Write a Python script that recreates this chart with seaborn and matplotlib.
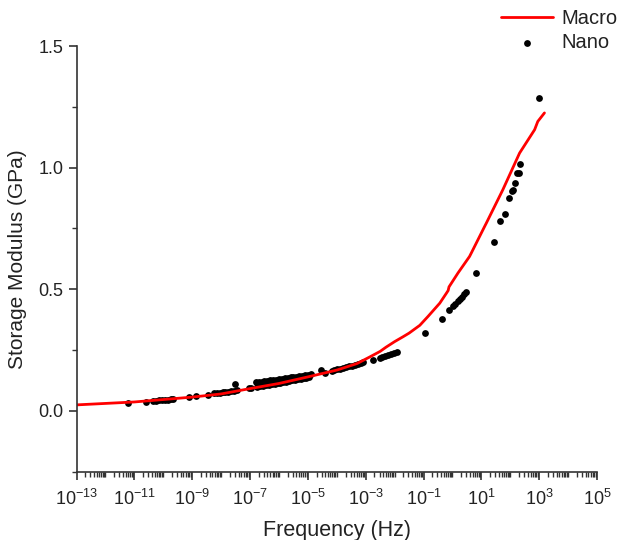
import numpy as np
import pandas as pd
import matplotlib
matplotlib.use("Agg")
import matplotlib.pyplot as plt
from matplotlib.ticker import FixedLocator, FuncFormatter, NullFormatter
import seaborn as sns

# Macro (DMA master curve): log10 frequency and storage modulus (GPa)
macro_logf = [-13.0, -11.0, -9.0, -8.0, -7.0, -6.0, -5.0, -4.0, -3.3, -2.86,
              -2.5, -2.3, -2.0, -1.71, -1.5, -1.13, -0.85, -0.44, -0.21, -0.15,
              -0.12, 0.19, 0.59, 0.65, 1.11, 1.17, 1.74, 2.32, 2.84, 2.95, 3.18]
macro_mod = [0.025, 0.037, 0.057, 0.070, 0.092, 0.113, 0.140, 0.168, 0.195, 0.222,
             0.245, 0.262, 0.285, 0.305, 0.320, 0.352, 0.388, 0.443, 0.484, 0.495,
             0.510, 0.567, 0.635, 0.649, 0.758, 0.772, 0.909, 1.060, 1.156, 1.190, 1.225]

# Nano (nanoindentation): log10 frequency and storage modulus (GPa)
nano_logf = [-11.23, -10.60, -10.35, -10.25, -10.15, -10.05, -9.95, -9.85, -9.75, -9.66,
             -9.10, -8.87, -8.47, -8.25, -8.15, -8.05, -7.95, -7.85, -7.75, -7.65,
             -7.55, -7.45, -7.51, -7.03, -6.95,
             -6.80, -6.70, -6.60, -6.50, -6.40, -6.30, -6.20, -6.10, -6.00, -5.90,
             -5.80, -5.70, -5.60, -5.50, -5.40, -5.30, -5.20, -5.10, -5.00, -4.90,
             -6.75, -6.65, -6.55, -6.45, -6.35, -6.25, -6.15, -6.05, -5.95, -5.85,
             -5.75, -5.65, -5.55, -5.45, -5.35, -5.25, -5.15, -5.05, -4.95,
             -4.55, -4.42, -4.18, -4.08, -3.98, -3.88, -3.78, -3.68, -3.58, -3.48,
             -3.38, -3.28, -3.18, -3.10, -2.76, -2.52, -2.42, -2.32, -2.22, -2.12,
             -2.02, -1.92,
             -0.96, -0.35, -0.12, 0.02, 0.10, 0.18, 0.26, 0.33, 0.40, 0.48,
             0.80, 1.42, 1.66, 1.83, 1.94, 2.05, 2.10, 2.16, 2.24, 2.30,
             2.34, 2.98]
nano_mod = [0.032, 0.038, 0.042, 0.043, 0.044, 0.045, 0.046, 0.047, 0.048, 0.049,
            0.058, 0.062, 0.066, 0.072, 0.074, 0.075, 0.077, 0.078, 0.080, 0.082,
            0.083, 0.085, 0.110, 0.093, 0.094,
            0.118, 0.120, 0.121, 0.123, 0.124, 0.126, 0.127, 0.129, 0.131, 0.133,
            0.134, 0.136, 0.138, 0.140, 0.141, 0.143, 0.145, 0.147, 0.148, 0.150,
            0.100, 0.102, 0.104, 0.106, 0.108, 0.110, 0.112, 0.114, 0.116, 0.118,
            0.121, 0.123, 0.126, 0.128, 0.130, 0.133, 0.135, 0.137, 0.140,
            0.168, 0.158, 0.165, 0.168, 0.171, 0.174, 0.177, 0.180, 0.183, 0.186,
            0.189, 0.192, 0.196, 0.200, 0.210, 0.218, 0.222, 0.226, 0.230, 0.234,
            0.238, 0.243,
            0.322, 0.377, 0.413, 0.432, 0.440, 0.450, 0.460, 0.470, 0.480, 0.490,
            0.567, 0.695, 0.779, 0.809, 0.875, 0.903, 0.909, 0.937, 0.980, 0.980,
            1.014, 1.287]

x_tick_exps = list(range(-13, 6, 2))
y_ticks = [0.0, 0.5, 1.0, 1.5]

macro = pd.DataFrame({"Frequency": 10.0 ** np.array(macro_logf), "Modulus": macro_mod})
nano = pd.DataFrame({"Frequency": 10.0 ** np.array(nano_logf), "Modulus": nano_mod})

sns.set_style("ticks")
plt.rcParams["font.family"] = ["Liberation Sans", "DejaVu Sans"]
plt.rcParams["mathtext.fontset"] = "custom"
plt.rcParams["mathtext.rm"] = "Liberation Sans"
plt.rcParams["mathtext.it"] = "Liberation Sans:italic"
plt.rcParams["mathtext.default"] = "regular"

fig = plt.figure(figsize=(6.19, 5.40), dpi=100)
ax = fig.add_axes([0.1236, 0.1263, 0.841, 0.7885])

sns.lineplot(data=macro, x="Frequency", y="Modulus", ax=ax, color="#ff0000",
             linewidth=2.0, label="Macro", sort=False)
sns.scatterplot(data=nano, x="Frequency", y="Modulus", ax=ax, color="black",
                s=24, linewidth=0, label="Nano")

ax.set_xscale("log")
ax.set_xlim(1e-13, 1e5)
ax.set_ylim(-0.25, 1.5)

ax.xaxis.set_major_locator(FixedLocator([10.0 ** e for e in x_tick_exps]))
ax.xaxis.set_major_formatter(FuncFormatter(lambda v, p: r"$10^{%d}$" % int(round(np.log10(v)))))
minor_x = [m * 10.0 ** d for d in range(-13, 5) for m in range(1, 10)
           if not (m == 1 and d in x_tick_exps)]
ax.xaxis.set_minor_locator(FixedLocator(minor_x))
ax.xaxis.set_minor_formatter(NullFormatter())

ax.yaxis.set_major_locator(FixedLocator(y_ticks))
ax.yaxis.set_minor_locator(FixedLocator([-0.25, 0.25, 0.75, 1.25]))
ax.yaxis.set_major_formatter(FuncFormatter(lambda v, p: "%.1f" % v))
ax.yaxis.set_minor_formatter(NullFormatter())

ax.tick_params(axis="both", which="major", direction="out", length=6, width=1.2,
               labelsize=13, colors="#333333", labelcolor="#222222")
ax.tick_params(axis="both", which="minor", direction="out", length=3.5, width=1.0,
               colors="#333333")
ax.tick_params(axis="x", which="major", pad=6)

for side in ("left", "bottom"):
    ax.spines[side].set_linewidth(1.2)
    ax.spines[side].set_color("#333333")
sns.despine(ax=ax)

ax.set_xlabel("Frequency (Hz)", fontsize=15.5, color="#222222", labelpad=8)
ax.set_ylabel("Storage Modulus (GPa)", fontsize=15, color="#222222", labelpad=8)

leg = ax.legend(loc="upper right", bbox_to_anchor=(1.055, 1.105), frameon=False,
                fontsize=14.5, handlelength=2.6, handletextpad=0.4, labelspacing=0.25,
                borderaxespad=0)
for t in leg.get_texts():
    t.set_color("#222222")

fig.savefig("out.png", dpi=100)
